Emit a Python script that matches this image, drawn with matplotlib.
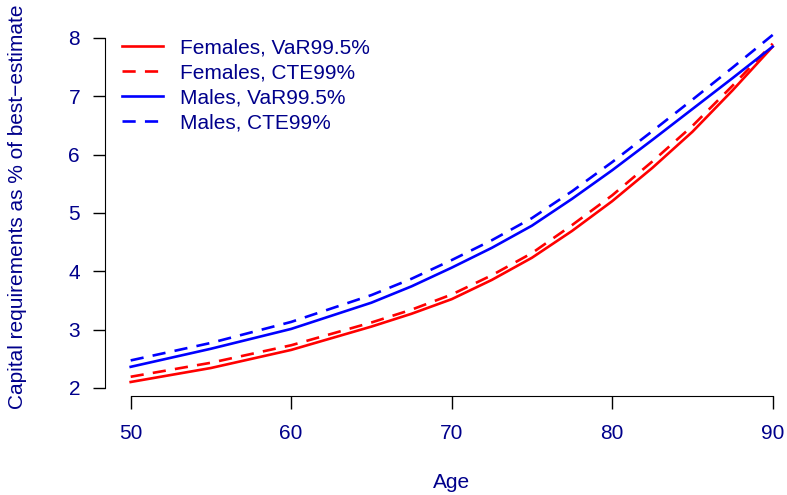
import numpy as np
import matplotlib.pyplot as plt

ages = [50, 55, 60, 65, 67.5, 70, 72.5, 75, 77.5, 80, 82.5, 85, 87.5, 90]
fem_var = [2.10, 2.34, 2.65, 3.05, 3.27, 3.52, 3.85, 4.23, 4.69, 5.20, 5.77, 6.39, 7.10, 7.85]
fem_cte = [2.19, 2.43, 2.73, 3.12, 3.34, 3.60, 3.93, 4.31, 4.79, 5.30, 5.88, 6.49, 7.18, 7.90]
mal_var = [2.36, 2.67, 3.01, 3.46, 3.74, 4.06, 4.40, 4.78, 5.24, 5.73, 6.25, 6.78, 7.31, 7.85]
mal_cte = [2.47, 2.77, 3.13, 3.59, 3.87, 4.19, 4.53, 4.91, 5.37, 5.87, 6.40, 6.94, 7.49, 8.05]

labels = ['Females, VaR99.5%', 'Females, CTE99%', 'Males, VaR99.5%', 'Males, CTE99%']
txt = '#00008B'

plt.rcParams['font.family'] = ['Liberation Sans', 'DejaVu Sans']

W, H = 787, 495
fig = plt.figure(figsize=(W / 100, H / 100), dpi=100)
# axes box in pixels: left 105, right 787, top 20, bottom 396
ax = fig.add_axes([105 / W, 1 - 396 / H, 682 / W, 376 / H])
ax.set_xlim(48.4, 48.4 + 682 / 16.05)
ax.set_ylim(1.86, 1.86 + 376 / 58.33)

lw = 1.9
ax.plot(ages, fem_var, color='red', lw=lw, label=labels[0])
ax.plot(ages, fem_cte, color='red', lw=lw, dashes=(5, 3.5), label=labels[1])
ax.plot(ages, mal_var, color='blue', lw=lw, label=labels[2])
ax.plot(ages, mal_cte, color='blue', lw=lw, dashes=(5, 3.5), label=labels[3])

for s in ['top', 'right']:
    ax.spines[s].set_visible(False)
ax.spines['bottom'].set_bounds(50, 90)
ax.spines['left'].set_bounds(2, 8)
ax.set_xticks([50, 60, 70, 80, 90])
ax.set_yticks([2, 3, 4, 5, 6, 7, 8])
ax.tick_params(axis='both', length=9, width=1, labelsize=15, labelcolor=txt)
ax.tick_params(axis='x', pad=11)
ax.tick_params(axis='y', pad=9)

fig.text(452 / W, 1 - 483 / H, 'Age', color=txt, fontsize=15, ha='center', va='center')
fig.text(18 / W, 1 - 207 / H, 'Capital requirements as % of best\u2212estimate',
         color=txt, fontsize=15, rotation=90, ha='center', va='center')

leg = ax.legend(loc='upper left', bbox_to_anchor=(122 / W, 1 - 38 / H),
                bbox_transform=fig.transFigure, frameon=False, fontsize=15,
                handlelength=1.95, handletextpad=0.85, labelspacing=0.30,
                borderaxespad=0, borderpad=0)
for t in leg.get_texts():
    t.set_color(txt)

fig.savefig('out.png', dpi=100)
